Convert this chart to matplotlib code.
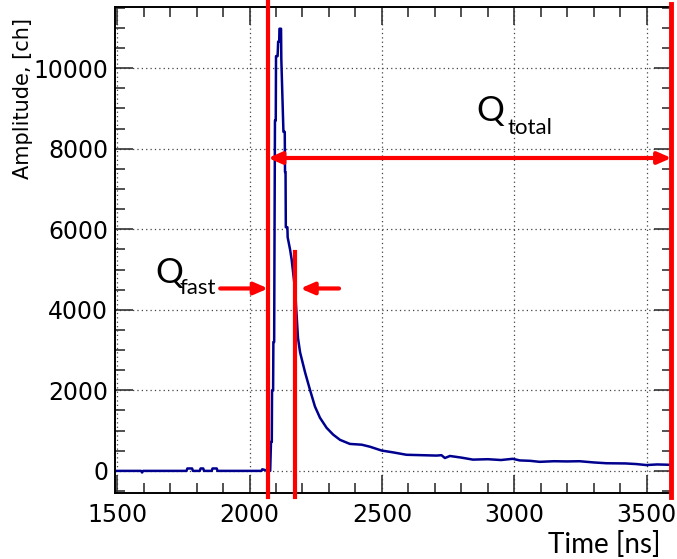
import matplotlib
matplotlib.use("Agg")
import matplotlib.pyplot as plt
from matplotlib.ticker import MultipleLocator

# waveform
time_ns = [1500, 1590, 1594, 1598, 1700, 1762, 1765, 1783, 1786, 1812, 1815, 1825, 1828,
           1857, 1860, 1876, 1879, 1990, 2045, 2048, 2070, 2078, 2081, 2084, 2085,
           2089, 2090, 2093, 2094, 2096, 2099, 2100, 2106, 2108, 2112, 2113, 2119,
           2120, 2128, 2133, 2134, 2136, 2137, 2143, 2144, 2153, 2159, 2172, 2183,
           2191, 2210, 2228, 2247, 2266, 2291, 2316, 2342, 2379, 2424, 2455, 2499,
           2542, 2593, 2650, 2707, 2725, 2738, 2757, 2800, 2844, 2900, 2950, 2994,
           3021, 3060, 3096, 3150, 3200, 3247, 3300, 3348, 3420, 3460, 3499, 3540, 3596]
amplitude = [0, 0, -40, 0, 0, 0, 60, 60, 0, 0, 60, 60, 0,
             0, 60, 60, 0, 0, 0, 40, 0, 0, 720, 720, 2000,
             2000, 3200, 3200, 5200, 8700, 8700, 10300, 10300, 10660, 10660, 10980, 10980,
             10230, 8420, 8420, 7420, 7420, 6050, 6050, 5800, 5500, 5250, 4500, 3300,
             2940, 2440, 2020, 1600, 1320, 1070, 900, 770, 670, 650, 600, 505,
             460, 400, 390, 380, 390, 320, 370, 330, 280, 290, 270, 300,
             260, 250, 225, 240, 235, 240, 210, 190, 185, 170, 145, 160, 150]

# markers (vertical lines, arrows)
t_start = 2070
t_fast = 2172
t_end = 3594
q_total_y = 7770
q_fast_y = 4530
fast_left_from = 1889
fast_right_from = 2338

fig = plt.figure(figsize=(6.77, 5.59), dpi=100)
ax = fig.add_axes([0.170, 0.118, 0.8226, 0.8695])

ax.plot(time_ns, amplitude, color="#00008f", lw=1.8, zorder=3)

ax.set_xlim(1492, 3596)
ax.set_ylim(-550, 11520)

ax.xaxis.set_major_locator(MultipleLocator(500))
ax.xaxis.set_minor_locator(MultipleLocator(100))
ax.yaxis.set_major_locator(MultipleLocator(2000))
ax.yaxis.set_minor_locator(MultipleLocator(500))
ax.tick_params(which="both", direction="in", top=True, right=True, width=1.2, color="#333333")
ax.tick_params(which="major", length=13)
ax.tick_params(which="minor", length=7)
ax.tick_params(axis="x", labelsize=17, pad=7, labelfontfamily="DejaVu Sans")
ax.tick_params(axis="y", labelsize=17, pad=5, labelfontfamily="DejaVu Sans")
ax.grid(True, which="major", linestyle=(0, (1, 2.5)), color="#444444", lw=0.9)
for s in ax.spines.values():
    s.set_linewidth(1.4)

red = "#ff0000"
ax.plot([t_start, t_start], [11750, -650], color=red, lw=3, clip_on=False, zorder=4)
ax.plot([t_fast, t_fast], [5430, -650], color=red, lw=3, clip_on=False, zorder=4)
ax.plot([t_end, t_end], [11600, -650], color=red, lw=3.5, clip_on=False, zorder=4)

arr = dict(arrowstyle="-|>,head_length=0.8,head_width=0.35", color=red, lw=3,
           shrinkA=0, shrinkB=0)
ax.annotate("", xy=(t_end, q_total_y), xytext=(t_start, q_total_y),
            arrowprops=dict(arr, arrowstyle="<|-|>,head_length=0.8,head_width=0.35"),
            annotation_clip=False)
ax.annotate("", xy=(t_start, q_fast_y), xytext=(fast_left_from, q_fast_y), arrowprops=arr)
ax.annotate("", xy=(t_fast + 20, q_fast_y), xytext=(fast_right_from, q_fast_y), arrowprops=arr)

tf = "Lato"
fig.text(155 / 677, 1 - 283 / 559, "Q", family=tf, fontsize=25, color="black")
fig.text(179 / 677, 1 - 294 / 559, "fast", family=tf, fontsize=16, color="black")
fig.text(476 / 677, 1 - 121 / 559, "Q", family=tf, fontsize=25, color="black")
fig.text(508 / 677, 1 - 134 / 559, "total", family=tf, fontsize=16, color="black")

fig.text(660 / 677, 1 - 553 / 559, "Time [ns]", family=tf, fontsize=20, ha="right", va="baseline")
fig.text(23 / 677, 1 - 18 / 559, "Amplitude, [ch]", family="DejaVu Sans", fontsize=15,
         rotation=90, ha="center", va="top")

fig.savefig("out.png", dpi=100)
